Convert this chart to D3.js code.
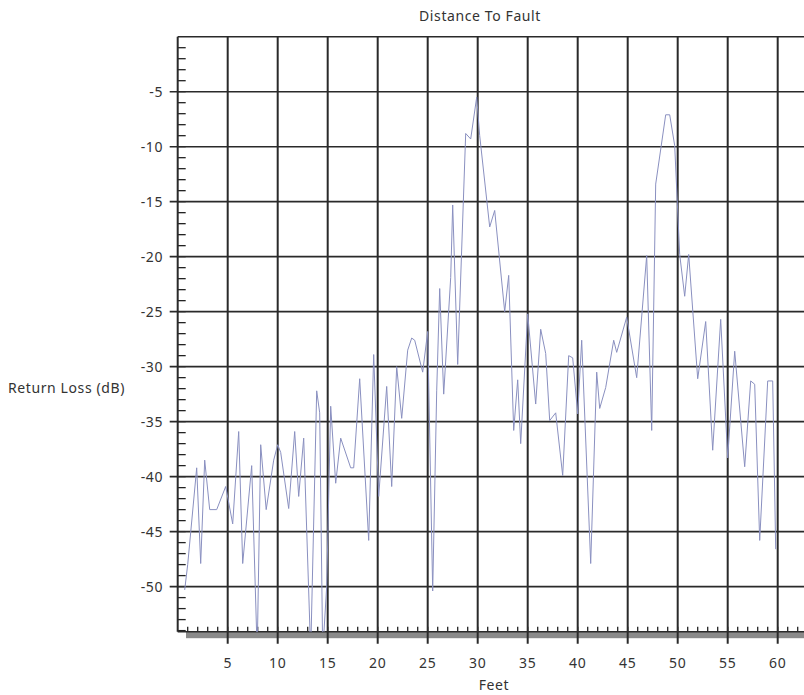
<!DOCTYPE html>
<html>
<head>
<meta charset="utf-8">
<script src="https://cdn.jsdelivr.net/npm/d3@7"></script>
<style>
  body { margin: 0; background: #fff; }
  text { font-family: "Noto Sans", sans-serif; fill: #333; letter-spacing: 0.6px; }
</style>
</head>
<body>
<svg id="svg_dtf" width="804" height="695"></svg>
<script>
// distance (feet) and return loss (dB)
const feet = [0.7, 1.0, 1.9, 2.3, 2.7, 3.2, 3.9, 4.8, 5.5, 6.1, 6.5, 7.4, 7.95, 8.3, 8.85, 9.6, 10.0, 10.3,
  11.1, 11.7, 12.1, 12.6, 13.3, 13.9, 14.2, 14.5, 14.9, 15.3, 15.8, 16.3, 17.3, 17.6, 18.2, 19.1, 19.6,
  20.1, 20.9, 21.4, 21.9, 22.4, 23.0, 23.4, 23.7, 24.5, 25.0, 25.5, 25.9, 26.2, 26.6, 27.3, 27.5, 28.0,
  28.8, 29.3, 29.9, 30.2, 31.2, 31.7, 32.7, 33.1, 33.6, 34.0, 34.3, 35.0, 35.8, 36.3, 36.8, 37.2, 37.8,
  38.5, 39.1, 39.5, 40.0, 40.4, 41.3, 41.9, 42.2, 42.8, 43.6, 43.9, 44.9, 45.9, 46.9, 47.4, 47.8, 48.8,
  49.2, 49.7, 50.2, 50.7, 51.1, 52.0, 52.8, 53.5, 54.3, 55.0, 55.7, 56.7, 57.3, 57.7, 58.2, 59.0, 59.5, 59.8]
const returnLoss = [-50.3, -48, -39.2, -47.9, -38.5, -43, -43, -40.9, -44.3, -35.9, -47.9, -39, -56, -37.1, -43, -38.5, -37.1, -37.8,
  -42.9, -35.9, -41.8, -36.5, -56, -32.2, -34.2, -56, -50, -33.6, -40.6, -36.5, -39.2, -39.2, -31.1, -45.8, -28.9,
  -41.8, -31.8, -40.9, -30, -34.7, -28.5, -27.4, -27.6, -30.5, -26.8, -50.4, -32.2, -22.9, -32.5, -21.9, -15.3, -29.8,
  -8.8, -9.3, -5.5, -9, -17.3, -15.8, -25, -21.7, -35.8, -31.2, -37, -25.2, -33.4, -26.6, -28.8, -34.9, -34.2,
  -39.9, -29, -29.2, -34.3, -27.6, -47.9, -30.5, -33.8, -31.9, -27.6, -28.7, -25.5, -31, -19.9, -35.8, -13.4, -7.1,
  -7.1, -9.9, -19.8, -23.6, -19.8, -31.1, -25.9, -37.6, -25.7, -38.3, -28.6, -39.1, -31.3, -31.6, -45.8, -31.3, -31.3, -46.6]

const xTicks = [5, 10, 15, 20, 25, 30, 35, 40, 45, 50, 55, 60]
const yTicks = [-5, -10, -15, -20, -25, -30, -35, -40, -45, -50]

const svg = d3.select('#svg_dtf')

const plotLeft = 177.7
const plotTop = 36.7
const plotBottom = 631.7
const plotRight = 804

const xScale = d3.scaleLinear()
  .domain([0, 62.63])
  .range([plotLeft, plotRight])

const yScale = d3.scaleLinear()
  .domain([0, -54.1])
  .range([plotTop, plotBottom])

// grey shadow under the x axis
svg.append('rect')
  .attr('x', 186)
  .attr('y', plotBottom)
  .attr('width', plotRight - 186)
  .attr('height', 6.5)
  .attr('fill', '#8a8a8a')

// minor ticks every foot / every dB
svg.append('g')
  .selectAll('line')
  .data(d3.range(1, 63))
  .enter()
  .append('line')
  .attr('x1', d => xScale(d))
  .attr('x2', d => xScale(d))
  .attr('y1', plotBottom)
  .attr('y2', plotBottom - 5)
  .attr('stroke', '#222')
  .attr('stroke-width', 1.3)

svg.append('g')
  .selectAll('line')
  .data(d3.range(-1, -55, -1))
  .enter()
  .append('line')
  .attr('x1', plotLeft)
  .attr('x2', plotLeft + 8)
  .attr('y1', d => yScale(d))
  .attr('y2', d => yScale(d))
  .attr('stroke', '#222')
  .attr('stroke-width', 1.3)

// grid
svg.append('g')
  .selectAll('line')
  .data(yTicks)
  .enter()
  .append('line')
  .attr('x1', plotLeft - 8)
  .attr('x2', plotRight)
  .attr('y1', d => yScale(d))
  .attr('y2', d => yScale(d))
  .attr('stroke', '#2a2a2a')
  .attr('stroke-width', 1.6)

svg.append('g')
  .selectAll('line')
  .data(xTicks)
  .enter()
  .append('line')
  .attr('x1', d => xScale(d))
  .attr('x2', d => xScale(d))
  .attr('y1', plotTop)
  .attr('y2', plotBottom + 12)
  .attr('stroke', '#2a2a2a')
  .attr('stroke-width', 2)

// frame: top line, left axis, bottom axis
svg.append('line')
  .attr('x1', plotLeft).attr('x2', plotRight)
  .attr('y1', plotTop).attr('y2', plotTop)
  .attr('stroke', '#2a2a2a').attr('stroke-width', 1.6)
svg.append('line')
  .attr('x1', plotLeft).attr('x2', plotLeft)
  .attr('y1', plotTop).attr('y2', plotBottom)
  .attr('stroke', '#2a2a2a').attr('stroke-width', 2)
svg.append('line')
  .attr('x1', plotLeft).attr('x2', plotRight)
  .attr('y1', plotBottom).attr('y2', plotBottom)
  .attr('stroke', '#2a2a2a').attr('stroke-width', 1.6)

// trace
svg.append('clipPath')
  .attr('id', 'plotClip')
  .append('rect')
  .attr('x', plotLeft)
  .attr('y', plotTop)
  .attr('width', plotRight - plotLeft)
  .attr('height', plotBottom - plotTop)

const line = d3.line()
  .x(d => xScale(d[0]))
  .y(d => yScale(d[1]))

svg.append('path')
  .datum(d3.zip(feet, returnLoss))
  .attr('clip-path', 'url(#plotClip)')
  .attr('d', line)
  .attr('fill', 'none')
  .attr('stroke', '#8a90c0')
  .attr('stroke-width', 1)

// labels
svg.append('g')
  .selectAll('text')
  .data(xTicks)
  .enter()
  .append('text')
  .text(d => d)
  .attr('x', d => xScale(d))
  .attr('y', 668)
  .attr('text-anchor', 'middle')
  .attr('font-size', 14)

svg.append('g')
  .selectAll('text')
  .data(yTicks)
  .enter()
  .append('text')
  .text(d => d)
  .attr('x', 163)
  .attr('y', d => yScale(d) + 5)
  .attr('text-anchor', 'end')
  .attr('font-size', 14)

svg.append('text')
  .text('Distance To Fault')
  .attr('x', 480)
  .attr('y', 21)
  .attr('text-anchor', 'middle')
  .attr('font-size', 14)

svg.append('text')
  .text('Feet')
  .attr('x', 494)
  .attr('y', 690)
  .attr('text-anchor', 'middle')
  .attr('font-size', 14)

svg.append('text')
  .text('Return Loss (dB)')
  .attr('x', 8)
  .attr('y', 393)
  .attr('font-size', 14)
</script>
</body>
</html>
